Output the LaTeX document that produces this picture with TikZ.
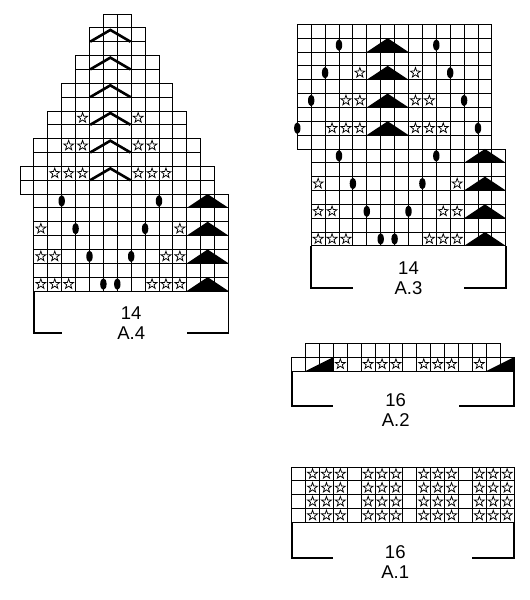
\documentclass[tikz,border=0pt]{standalone}
\usepackage{fontspec}
\setmainfont{Liberation Sans}
\usetikzlibrary{shapes.geometric, positioning}
\tikzset{
    cell/.style={draw, line width=0.9pt}, % one square of a chart
    knitstar/.style={star, star points=5, star point ratio=2.5, draw, line width=0.75pt, minimum size=10.5pt, inner sep=0pt}, % the open stars
    bobble/.style={fill=black}, % the black ovals on the grid lines
    decrease/.style={fill=black}, % the black triangles
    chevron/.style={line width=2.6pt}, % the thick ^ marks of A.4
    wedge/.style={fill=black}, % the corner wedges of A.2
    bracket/.style={line width=1.8pt}, % the frame under each chart
    chartlabel/.style={font=\fontsize{18.5pt}{20pt}\selectfont, inner sep=0pt},
    node distance=6.7pt, % gap between the width and the name of a chart
}

\begin{document}
\begin{tikzpicture}[x=1pt, y=-1pt]
\useasboundingbox (0,0) rectangle (530,600);

% A.4
\begin{scope}[shift={(20pt,-14pt)}, x=13.9pt, y=-13.85pt]
    \foreach \row/\first/\last in {1/7/8, 2/6/9, 3/6/9, 4/5/10, 5/5/10, 6/4/11, 7/4/11, 8/3/12, 9/3/12, 10/2/13, 11/2/13, 12/1/14, 13/1/14, 14/2/15, 15/2/15, 16/2/15, 17/2/15, 18/2/15, 19/2/15, 20/2/15}
        \foreach \col in {\first,...,\last}
            \draw[cell] (\col-1,\row-1) rectangle (\col,\row);
    \foreach \row in {2,4,...,12}
        \draw[chevron] (5.05,\row) -- (6.5,\row-0.85) -- (7.95,\row);
    \foreach \row/\col in {8/5, 8/9, 10/4, 10/5, 10/9, 10/10, 12/3, 12/4, 12/5, 12/9, 12/10, 12/11, 16/2, 16/12, 18/2, 18/3, 18/11, 18/12, 20/2, 20/3, 20/4, 20/10, 20/11, 20/12}
        \node[knitstar] (a4star-\row-\col) at (\col-0.5,\row-0.5) {};
    \foreach \row/\x in {14/3, 14/10, 16/4, 16/9, 18/5, 18/8, 20/6, 20/7}
        \fill[bobble] (\x,\row-0.5) ellipse [x radius=3.2pt, y radius=5.8pt];
    \foreach \row in {14,16,18,20}
        \fill[decrease] (12,\row) -- (13.5,\row-1) -- (15,\row) -- cycle;
    \draw[bracket] (1,20) -- (1,23.05) -- (3,23.05);
    \draw[bracket] (15,20) -- (15,23.05) -- (12,23.05);
    \node[chartlabel] (a4width) at (8,21.62) {14};
    \node[chartlabel, below=of a4width] (a4name) {A.4};
\end{scope}

% A.3
\begin{scope}[shift={(297.3pt,-24.3pt)}, x=13.9pt, y=-13.85pt]
    \foreach \row/\first/\last in {1/1/14, 2/1/14, 3/1/14, 4/1/14, 5/1/14, 6/1/14, 7/1/14, 8/1/14, 9/1/14, 10/2/15, 11/2/15, 12/2/15, 13/2/15, 14/2/15, 15/2/15, 16/2/15}
        \foreach \col in {\first,...,\last}
            \draw[cell] (\col-1,\row-1) rectangle (\col,\row);
    \foreach \row/\col in {4/5, 4/9, 6/4, 6/5, 6/9, 6/10, 8/3, 8/4, 8/5, 8/9, 8/10, 8/11, 12/2, 12/12, 14/2, 14/3, 14/11, 14/12, 16/2, 16/3, 16/4, 16/10, 16/11, 16/12}
        \node[knitstar] (a3star-\row-\col) at (\col-0.5,\row-0.5) {};
    \foreach \row/\x in {2/3, 2/10, 4/2, 4/11, 6/1, 6/12, 8/0, 8/13, 10/3, 10/10, 12/4, 12/9, 14/5, 14/8, 16/6, 16/7}
        \fill[bobble] (\x,\row-0.5) ellipse [x radius=3.2pt, y radius=5.8pt];
    \foreach \row/\x in {2/5, 4/5, 6/5, 8/5, 10/12, 12/12, 14/12, 16/12}
        \fill[decrease] (\x,\row) -- (\x+1.5,\row-1) -- (\x+3,\row) -- cycle;
    \draw[bracket] (1,16) -- (1,19.05) -- (4,19.05);
    \draw[bracket] (15,16) -- (15,19.05) -- (12,19.05);
    \node[chartlabel] (a3width) at (8,17.62) {14};
    \node[chartlabel, below=of a3width] (a3name) {A.3};
\end{scope}

% A.2
\begin{scope}[shift={(291.7pt,-343.3pt)}, x=13.9pt, y=-13.85pt]
    \foreach \row/\first/\last in {1/2/15, 2/1/16}
        \foreach \col in {\first,...,\last}
            \draw[cell] (\col-1,\row-1) rectangle (\col,\row);
    \fill[wedge] (1,2) -- (3,2) -- (3,1) -- cycle;
    \fill[wedge] (14,2) -- (16,2) -- (16,1) -- cycle;
    \foreach \col in {4,6,7,8,10,11,12,14}
        \node[knitstar] (a2star-\col) at (\col-0.5,1.5) {};
    \draw[bracket] (0,2) -- (0,4.5) -- (3,4.5);
    \draw[bracket] (16,2) -- (16,4.5) -- (12,4.5);
    \node[chartlabel] (a2width) at (7.48,4.09) {16};
    \node[chartlabel, below=of a2width] (a2name) {A.2};
\end{scope}

% A.1
\begin{scope}[shift={(291.7pt,-467pt)}, x=13.9pt, y=-13.85pt]
    \foreach \row in {1,...,4}
        \foreach \col in {1,...,16}
            \draw[cell] (\col-1,\row-1) rectangle (\col,\row);
    \foreach \row in {1,...,4}
        \foreach \col in {2,3,4,6,7,8,10,11,12,14,15,16}
            \node[knitstar] (a1star-\row-\col) at (\col-0.5,\row-0.5) {};
    \draw[bracket] (0,4) -- (0,6.55) -- (3,6.55);
    \draw[bracket] (16,4) -- (16,6.55) -- (13,6.55);
    \node[chartlabel] (a1width) at (7.45,6.14) {16};
    \node[chartlabel, below=of a1width] (a1name) {A.1};
\end{scope}
\end{tikzpicture}
\end{document}
